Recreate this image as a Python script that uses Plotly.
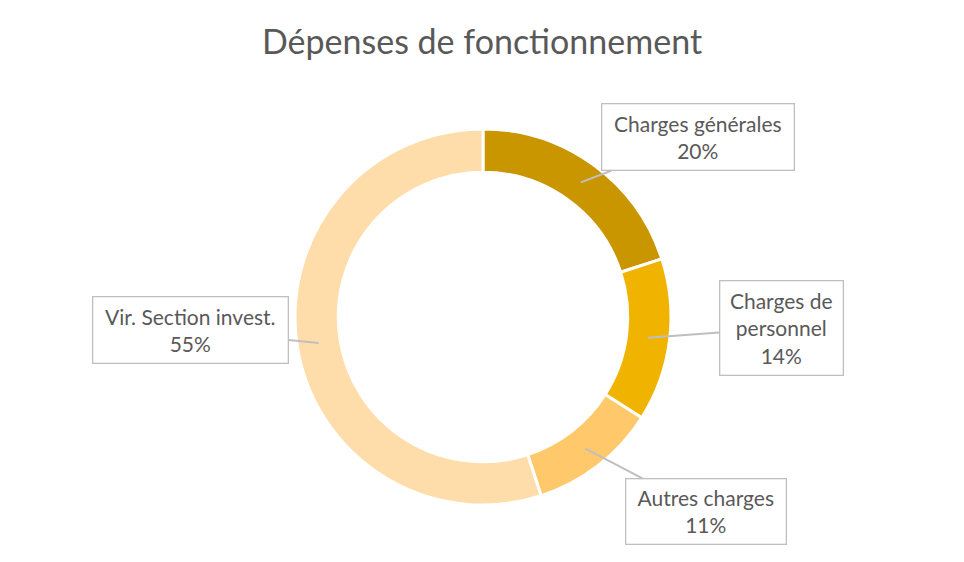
import math
import plotly.graph_objects as go

labels = ['Charges générales', 'Charges de personnel', 'Autres charges', 'Vir. Section invest.']
label_text = ['Charges générales', 'Charges de<br>personnel', 'Autres charges', 'Vir. Section invest.']
values = [20, 14, 11, 55]
colors = ['#C99600', '#F0B400', '#FFC96B', '#FEDDAB']

W, H = 964, 562
cx, cy, r_out, hole = 483, 317, 188, 0.77

fig = go.Figure(go.Pie(
    labels=labels, values=values, hole=hole, sort=False, direction='clockwise',
    marker=dict(colors=colors, line=dict(color='white', width=3)),
    textinfo='none', hoverinfo='label+percent',
    domain=dict(x=[(cx - r_out) / W, (cx + r_out) / W],
                y=[(H - cy - r_out) / H, (H - cy + r_out) / H]),
))

# callout boxes: offset of box centre from the tip (pixels) and box size
offsets = [(117, -45), (133, -10), (121, 63), (-128, -13)]
sizes = [(191, 65), (122, 93), (159, 64), (194, 65)]

total = sum(values)
cum = 0
r_mid = r_out * (1 + hole) / 2
for i, v in enumerate(values):
    mid = (cum + v / 2) / total * 2 * math.pi
    cum += v
    tx = cx + r_mid * math.sin(mid)
    ty = cy - r_mid * math.cos(mid)
    pct = round(v / total * 100)
    fig.add_annotation(
        x=tx / W, y=(H - ty) / H, xref='paper', yref='paper',
        ax=offsets[i][0], ay=offsets[i][1],
        text=f'{label_text[i]}<br>{pct}%', showarrow=True, arrowhead=0,
        arrowcolor='#BFBFBF', arrowwidth=2,
        bordercolor='#BFBFBF', borderwidth=1.3, borderpad=0, bgcolor='white',
        width=sizes[i][0], height=sizes[i][1], align='center', valign='middle',
        font=dict(size=21, color='#595959', family='Lato'),
    )

fig.update_layout(
    width=W, height=H, margin=dict(l=0, r=0, t=0, b=0),
    paper_bgcolor='white', showlegend=False,
    title=dict(text='Dépenses de fonctionnement', x=0.5, xanchor='center',
               y=1 - 42 / H, yanchor='middle',
               font=dict(size=34, color='#595959', family='Lato')),
)

fig.write_html('out.html', config={'displayModeBar': False},
               post_script="document.body.style.margin='0';")
